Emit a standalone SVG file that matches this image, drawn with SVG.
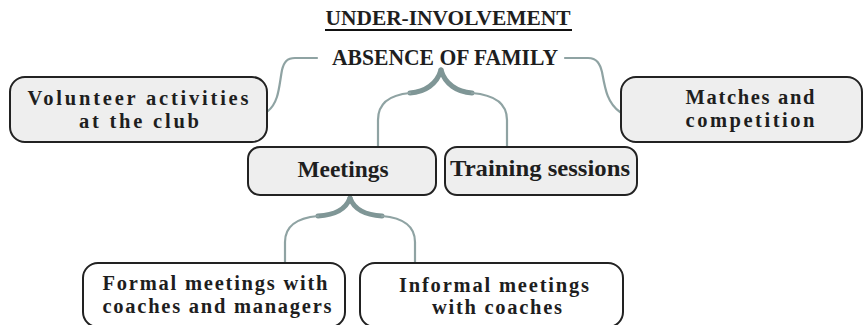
<svg xmlns="http://www.w3.org/2000/svg" width="865" height="325" viewBox="0 0 865 325">
<style>
.t{font-family:"Liberation Serif","DejaVu Serif Condensed",serif;font-weight:bold;fill:#1e1e1e;text-anchor:middle}
.h{font-size:21px}
.n{font-size:24px}
.m{font-size:20.5px}
.box{stroke:#222;stroke-width:2}
.g{fill:#eeeeee}
.w{fill:#ffffff}
.c{fill:none;stroke:#8fa3a3;stroke-width:2.2;stroke-linecap:round}
.k{fill:none;stroke:#7f9696;stroke-width:5;stroke-linecap:round}
</style>
<rect width="865" height="325" fill="#ffffff"/>
<g id="title">
<text class="t h" x="448" y="25" textLength="245" lengthAdjust="spacingAndGlyphs">UNDER-INVOLVEMENT</text>
<line x1="325" y1="30" x2="572" y2="30" stroke="#111" stroke-width="2"/>
</g>
<g id="connectors">
<path class="c" d="M317,58 H295 C287,58 284,62 282,70 C279,86 279,102 268,111"/>
<path class="c" d="M565,58 H588 C597,58 600,64 602,72 C605,88 607,103 620,112"/>
<path class="k" d="M441,70 C437,84 425,92 410,93"/>
<path class="k" d="M441,70 C445,84 457,92 472,93"/>
<path class="c" d="M410,93 C388,95 378,104 378,120 V147"/>
<path class="c" d="M472,93 C496,95 507,104 507,120 V147"/>
<path class="k" d="M350,198 C346,209 335,215 318,216"/>
<path class="k" d="M350,198 C354,209 365,215 382,216"/>
<path class="c" d="M318,216 C296,218 285,227 285,242 V263"/>
<path class="c" d="M382,216 C405,218 415,227 415,242 V263"/>
</g>
<g id="absence">
<text class="t" style="font-size:23px" x="445" y="65" textLength="226" lengthAdjust="spacingAndGlyphs">ABSENCE OF FAMILY</text>
</g>
<g id="volunteer">
<rect class="box g" x="10" y="77" width="257" height="65" rx="15"/>
<text class="t m" x="138" y="105" textLength="221" lengthAdjust="spacing">Volunteer activities</text>
<text class="t m" x="139" y="128" textLength="120" lengthAdjust="spacing">at the club</text>
</g>
<g id="matches">
<rect class="box g" x="621" y="77" width="241" height="65" rx="15"/>
<text class="t m" x="750" y="104" textLength="129" lengthAdjust="spacing">Matches and</text>
<text class="t m" x="750" y="127" textLength="129" lengthAdjust="spacing">competition</text>
</g>
<g id="meetings">
<rect class="box g" x="248" y="147" width="188" height="48" rx="12"/>
<text class="t n" x="343" y="177" textLength="91" lengthAdjust="spacingAndGlyphs">Meetings</text>
</g>
<g id="training">
<rect class="box g" x="445" y="147" width="192" height="48" rx="12"/>
<text class="t n" x="540" y="176" textLength="180" lengthAdjust="spacingAndGlyphs">Training sessions</text>
</g>
<g id="formal">
<rect class="box w" x="83" y="263" width="262" height="64" rx="15"/>
<text class="t m" x="215" y="290" textLength="225" lengthAdjust="spacing">Formal meetings with</text>
<text class="t m" x="217" y="313" textLength="229" lengthAdjust="spacing">coaches and managers</text>
</g>
<g id="informal">
<rect class="box w" x="360" y="263" width="263" height="64" rx="15"/>
<text class="t m" x="494" y="292" textLength="190" lengthAdjust="spacing">Informal meetings</text>
<text class="t m" x="497" y="314" textLength="130" lengthAdjust="spacing">with coaches</text>
</g>
</svg>
